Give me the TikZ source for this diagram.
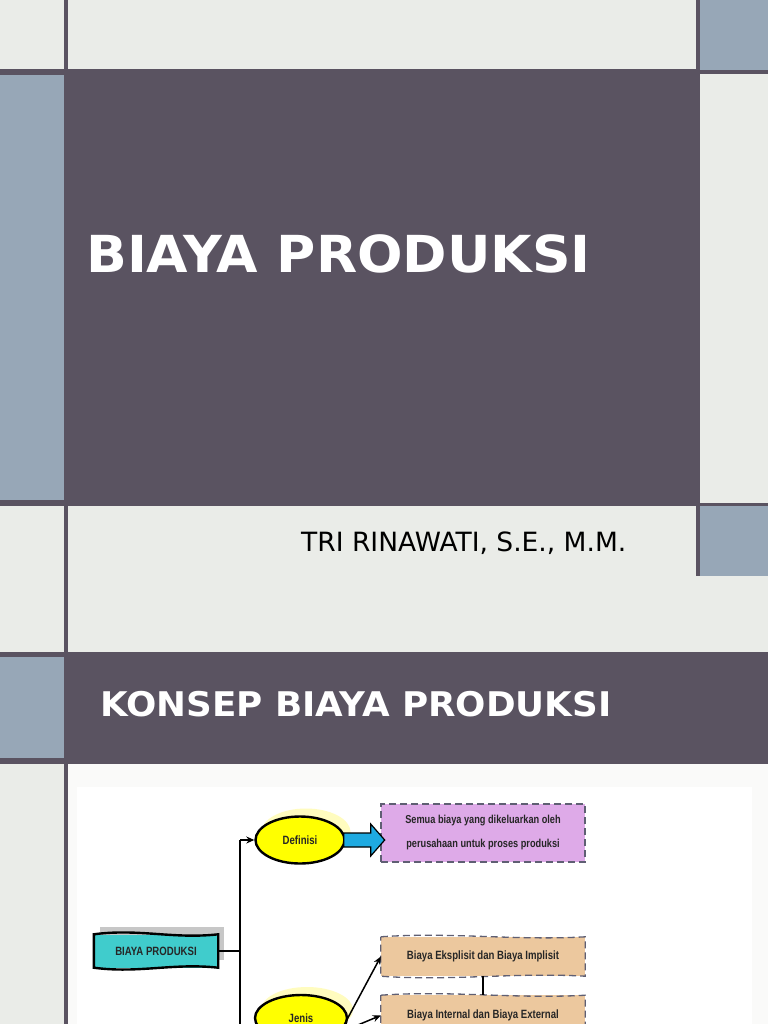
\documentclass[tikz,border=0pt]{standalone}
\usepackage{fontspec}
\setmainfont{DejaVu Sans}
\newfontfamily\titlefont[FakeStretch=1.05]{DejaVu Sans}
\newfontfamily\diagfont[FakeStretch=0.8]{Liberation Sans}
\usetikzlibrary{arrows.meta,positioning,shapes.geometric,shadows}
\definecolor{slidebg}{RGB}{234,236,232}
\definecolor{slidepaper}{RGB}{250,250,249}
\definecolor{slidedark}{RGB}{90,83,97}
\definecolor{slideblue}{RGB}{151,167,183}
\definecolor{boxcyan}{RGB}{64,204,204}
\definecolor{boxpink}{RGB}{222,170,232}
\definecolor{boxtan}{RGB}{236,200,158}
\definecolor{dashgray}{RGB}{95,95,115}
\definecolor{arrowblue}{RGB}{30,170,225}
\definecolor{ovalyellow}{RGB}{255,255,0}
\tikzset{
	diagtext/.style = {font=\diagfont\bfseries\fontsize{12}{14}\selectfont, text=black!85},
	oval/.style = {ellipse, draw, line width=2.4pt, fill=ovalyellow, diagtext,
		minimum width=89pt, minimum height=47pt, inner sep=0pt,
		drop shadow={shadow xshift=6pt, shadow yshift=8pt, opacity=1, fill=yellow!25}},
	mainbox/.style = {rectangle, fill=boxcyan, diagtext,
		minimum width=124pt, minimum height=33pt, inner sep=0pt,
		drop shadow={shadow xshift=6pt, shadow yshift=8pt, opacity=1, fill=black!22}},
	notebox/.style = {rectangle, diagtext, minimum width=204pt, inner sep=0pt},
	notedash/.style = {draw=dashgray, line width=1.3pt, dash pattern=on 7pt off 4pt},
	link/.style = {line width=2pt, black},
	tip/.style = {link, -{Stealth[length=8pt,width=7pt]}}
}

\begin{document}
\begin{tikzpicture}[x=1pt,y=-1pt,
	bluearr/.style={draw=black, line width=1.2pt, fill=arrowblue}]
	\clip (0,0) rectangle (768,1024);
	% slide backgrounds
	\fill[slidebg] (0,0) rectangle (768,1024);
	\fill[slidedark] (0,69) rectangle (768,506);
	\fill[slideblue] (0,75) rectangle (64,500);
	\fill[slidebg] (700,74) rectangle (768,503);
	\fill[slideblue] (700,0) rectangle (768,70);
	\fill[slideblue] (700,506) rectangle (768,576);
	\fill[slidedark] (696,0) rectangle (700,576);
	\fill[slidedark] (0,652) rectangle (768,764);
	\fill[slideblue] (0,657) rectangle (64,758);
	\fill[slidepaper] (68,764) rectangle (768,1024);
	\fill[white] (77,787) rectangle (752,1024);
	\fill[slidedark] (64,0) rectangle (68,1024);
	% slide texts
	\node (title) [anchor=base west, inner sep=0pt, text=white,
		font=\titlefont\bfseries\fontsize{51}{60}\selectfont] at (86,272) {BIAYA PRODUKSI};
	\node (author) [anchor=base west, inner sep=0pt, text=black,
		font=\fontsize{26.5}{30}\selectfont] at (301,551) {TRI RINAWATI, S.E., M.M.};
	\node (heading) [anchor=base west, inner sep=0pt, text=white,
		font=\titlefont\bfseries\fontsize{34}{40}\selectfont] at (100,716) {KONSEP BIAYA PRODUKSI};
	% diagram
	\node (biaya) [mainbox] at (156,951) {BIAYA PRODUKSI};
	\node (defn) [oval] at (300,840) {Definisi};
	\node (jenis) [oval, minimum width=92pt, minimum height=46pt] at (301,1018) {Jenis};
	\node (descbox) [notebox, notedash, fill=boxpink, minimum height=58pt, align=center,
		font=\diagfont\bfseries\fontsize{11.5}{24}\selectfont] at (483,833)
		{Semua biaya yang dikeluarkan oleh\\perusahaan untuk proses produksi};
	\node (eksplisit) [notebox, fill=boxtan, minimum height=39pt] at (483,956.5)
		{Biaya Eksplisit dan Biaya Implisit};
	\node (internal) [notebox, fill=boxtan, minimum height=40pt, below=19pt of eksplisit]
		{Biaya Internal dan Biaya External};
	% wavy outlines
	\draw[line width=2.4pt] (biaya.north west) .. controls +(45,-6) and +(-45,5) .. (biaya.north east)
		-- (biaya.south east) .. controls +(-45,-5) and +(45,6) .. (biaya.south west) -- cycle;
	\foreach \b in {eksplisit,internal}
		\draw[notedash] (\b.north west) .. controls +(70,-5) and +(-70,4) .. (\b.north east)
			-- (\b.south east) .. controls +(-70,-4) and +(70,5) .. (\b.south west) -- cycle;
	% connectors
	\coordinate (trunktop) at (240,840);
	\coordinate (trunkend) at (240,1040);
	\draw[link] (biaya.east) -- (biaya.east -| trunktop);
	\draw[link] (trunktop) -- (trunkend);
	\draw[tip] (trunktop) -- (defn.west);
	\draw[bluearr] (defn.east) ++(-2,-7) -- ++(27,0) -- ++(0,-9) -- ++(14,16)
		-- ++(-14,16) -- ++(0,-9) -- ++(-27,0) -- cycle;
	\draw[link] (eksplisit.south) -- (internal.north);
	\draw[tip, line width=1.5pt] (jenis.-18) -- (eksplisit.west);
	\draw[tip, line width=1.5pt] (jenis.-24) -- (internal.west);
\end{tikzpicture}
\end{document}
